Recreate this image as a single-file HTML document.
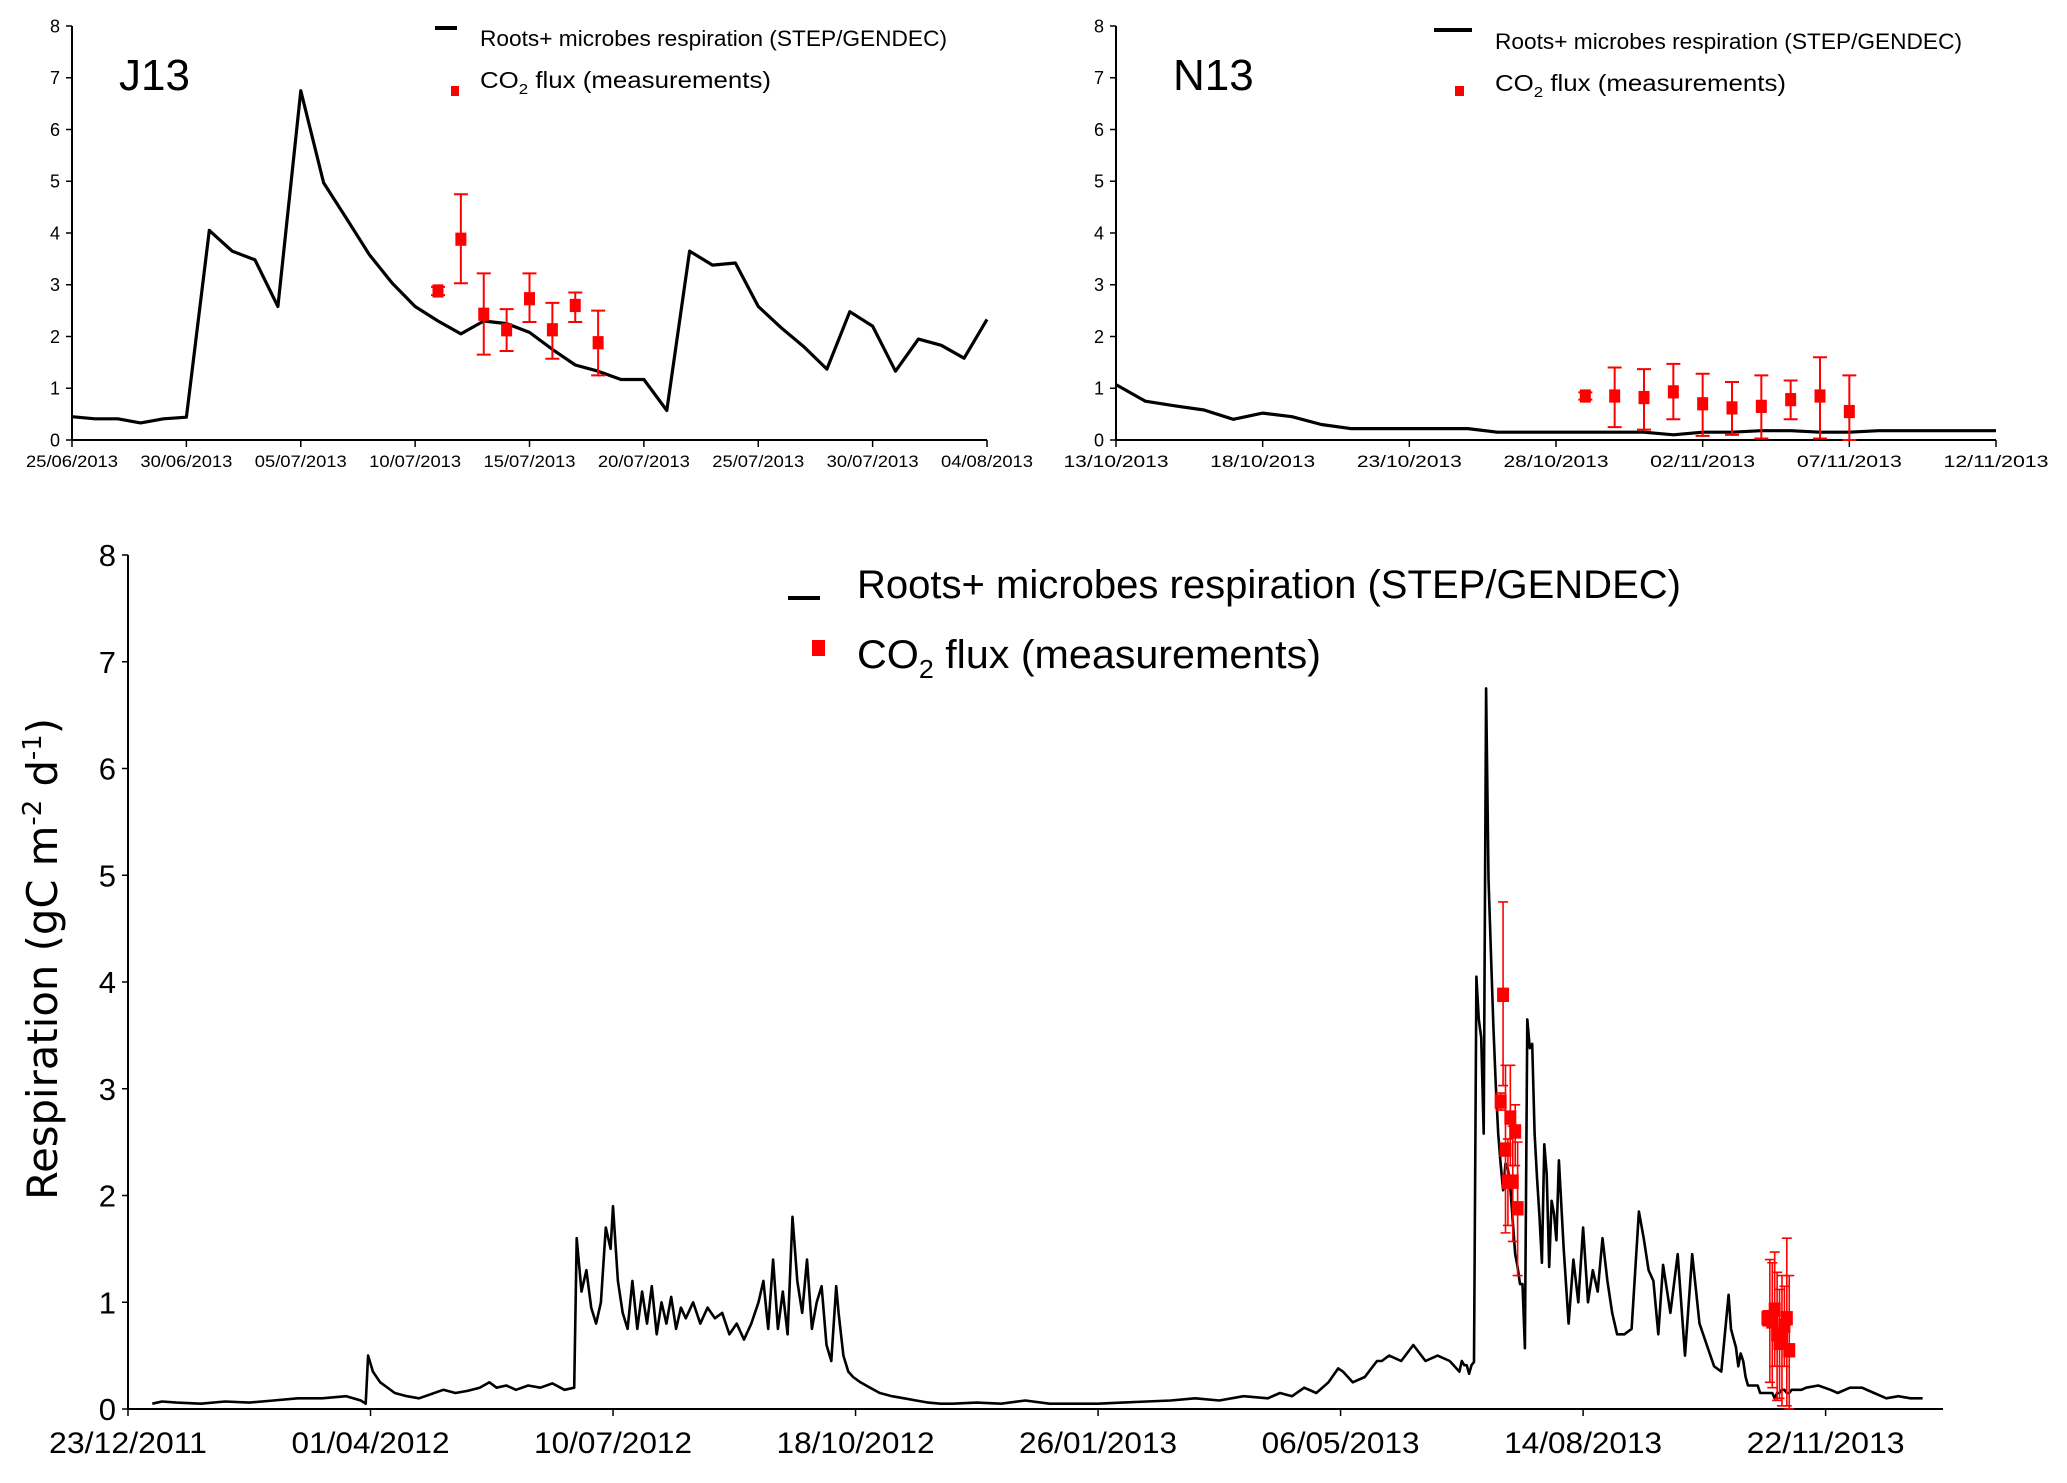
<!DOCTYPE html>
<html><head><meta charset="utf-8"><style>
html,body{margin:0;padding:0;background:#fff}
svg{display:block}
text{font-family:"Liberation Sans Narrow","Liberation Sans",sans-serif;fill:#000}
</style></head><body>
<svg id="fig" width="2067" height="1483" viewBox="0 0 2067 1483" xmlns="http://www.w3.org/2000/svg"></svg>
<script>
// ---- J13 data (days since 25/06/2013) ----
const j13Ticks = ["25/06/2013","30/06/2013","05/07/2013","10/07/2013","15/07/2013","20/07/2013","25/07/2013","30/07/2013","04/08/2013"];
const j13Model = [0.45,0.41,0.41,0.33,0.41,0.44,4.05,3.65,3.48,2.58,6.75,4.97,4.28,3.58,3.03,2.58,2.3,2.05,2.3,2.25,2.08,1.75,1.45,1.33,1.17,1.17,0.57,3.65,3.38,3.42,2.58,2.17,1.8,1.37,2.48,2.2,1.33,1.95,1.83,1.58,2.33];
const j13MeasDays = [16,17,18,19,20,21,22,23];
const j13Meas = [2.88,3.88,2.43,2.13,2.73,2.13,2.6,1.88];
const j13Lo = [2.8,3.03,1.65,1.72,2.28,1.57,2.28,1.25];
const j13Hi = [2.96,4.75,3.22,2.53,3.22,2.65,2.85,2.5];
// ---- N13 data (days since 13/10/2013) ----
const n13Ticks = ["13/10/2013","18/10/2013","23/10/2013","28/10/2013","02/11/2013","07/11/2013","12/11/2013"];
const n13Model = [1.07,0.75,0.66,0.58,0.4,0.52,0.45,0.3,0.22,0.22,0.22,0.22,0.22,0.15,0.15,0.15,0.15,0.15,0.15,0.1,0.15,0.15,0.18,0.18,0.15,0.15,0.18,0.18,0.18,0.18,0.18];
const n13MeasDays = [16,17,18,19,20,21,22,23,24,25];
const n13Meas = [0.85,0.85,0.82,0.93,0.7,0.62,0.65,0.78,0.85,0.55];
const n13Lo = [0.78,0.25,0.2,0.4,0.08,0.1,0.03,0.4,0.03,0.0];
const n13Hi = [0.92,1.4,1.37,1.47,1.28,1.12,1.25,1.15,1.6,1.25];
// ---- Full period (days since 23/12/2011) ----
const fullTicks = ["23/12/2011","01/04/2012","10/07/2012","18/10/2012","26/01/2013","06/05/2013","14/08/2013","22/11/2013"];
const j13Offset = 550;
const n13Offset = 660;
const fullDaysA = [10,14,20,30,40,50,60,70,80,90,96,98,99,101,104,110,115,120,125,130,135,140,145,149,152,156,160,165,170,175,180,184];
const fullValsA = [0.05,0.07,0.06,0.05,0.07,0.06,0.08,0.1,0.1,0.12,0.08,0.05,0.5,0.35,0.25,0.15,0.12,0.1,0.14,0.18,0.15,0.17,0.2,0.25,0.2,0.22,0.18,0.22,0.2,0.24,0.18,0.2];
const fullDaysB = [185,187,189,191,193,195,197,199,200,202,204,206,208,210,212,214,216,218,220,222,224,226,228,230,233,236,239,242,245,248,251,254,257,260,262,264,266,268,270,272,274,276,278,280,282,284,286,288,290,292,293,295,297,299,302,306,310,315,320,325,330,335,340];
const fullValsB = [1.6,1.1,1.3,0.95,0.8,1.0,1.7,1.5,1.9,1.2,0.9,0.75,1.2,0.75,1.1,0.8,1.15,0.7,1.0,0.8,1.05,0.75,0.95,0.85,1.0,0.8,0.95,0.85,0.9,0.7,0.8,0.65,0.8,1.0,1.2,0.75,1.4,0.75,1.1,0.7,1.8,1.2,0.9,1.4,0.75,1.0,1.15,0.6,0.45,1.15,0.9,0.5,0.35,0.3,0.25,0.2,0.15,0.12,0.1,0.08,0.06,0.05,0.05];
const fullDaysC = [350,360,370,380,390,400,410,420,430,440,450,460,470,475,480,485,490,495,499,501,505,510,515,517,520,525,530,535,540,545,549];
const fullValsC = [0.06,0.05,0.08,0.05,0.05,0.05,0.06,0.07,0.08,0.1,0.08,0.12,0.1,0.15,0.12,0.2,0.15,0.25,0.38,0.35,0.25,0.3,0.45,0.45,0.5,0.45,0.6,0.45,0.5,0.45,0.35];
const fullDaysD = [592,594,596,598,600,602,604,606,608,610,612,614,617,620,623,625,627,629,631,633,636,639,642,645,648,651,654,657];
const fullValsD = [1.5,0.8,1.4,1.0,1.7,1.0,1.3,1.1,1.6,1.2,0.9,0.7,0.7,0.75,1.85,1.6,1.3,1.2,0.7,1.35,0.9,1.45,0.5,1.45,0.8,0.6,0.4,0.35];
const fullDaysE = [692,697,702,705,710,715,720,725,730,735,740];
const fullValsE = [0.2,0.22,0.18,0.15,0.2,0.2,0.15,0.1,0.12,0.1,0.1];

const svg = document.getElementById('fig');
const NS = "http://www.w3.org/2000/svg";
function mk(tag, attrs, parent){
  const e = document.createElementNS(NS, tag);
  for (const k in attrs) e.setAttribute(k, attrs[k]);
  (parent||svg).appendChild(e);
  return e;
}

function panel(opt){
  const g = mk('g', {});
  
  
  const xs = d => opt.x0 + (d - opt.d0) / (opt.d1 - opt.d0) * (opt.x1 - opt.x0);
  const ys = v => opt.y0 - v / 8 * (opt.y0 - opt.y8);
  const ya = mk('line', {x1:opt.x0, y1:opt.y8, x2:opt.x0, y2:opt.y0, stroke:'#000', 'stroke-width':opt.axw}, g);
  
  
  const xa = mk('line', {x1:opt.x0, y1:opt.y0, x2:opt.x1, y2:opt.y0, stroke:'#000', 'stroke-width':opt.axw}, g);
  
  
  for (let v=0; v<=8; v++){
    mk('line', {x1:opt.x0-6, y1:ys(v), x2:opt.x0, y2:ys(v), stroke:'#000', 'stroke-width':1.5}, g);
    const t = mk('text', {x:opt.x0-12, y:ys(v)+opt.yfs*0.36, 'text-anchor':'end', 'font-size':opt.yfs}, g);
    t.textContent = v;
    
    
  }
  opt.ticks.forEach((lab,i)=>{
    const x = xs(opt.d0 + i*opt.tstep);
    mk('line', {x1:x, y1:opt.y0, x2:x, y2:opt.y0+7, stroke:'#000', 'stroke-width':1.5}, g);
    const t = mk('text', {x:x, y:opt.y0+opt.xoff, 'text-anchor':'middle', 'font-size':opt.xfs, textLength:opt.xtl, lengthAdjust:'spacingAndGlyphs'}, g);
    t.textContent = lab;
    
    
  });
  const pts = opt.lineDays.map((d,i)=> xs(d).toFixed(1)+','+ys(opt.lineVals[i]).toFixed(1)).join(' ');
  const pl = mk('polyline', {points:pts, fill:'none', stroke:'#000', 'stroke-width':opt.lw, 'stroke-linejoin':'round'}, g);
  
  
  opt.meas.forEach(m=>{
    m.days.forEach((d,i)=>{
      const x = xs(d + m.off);
      const eb = mk('path', {d:`M${x},${ys(m.lo[i])}V${ys(m.hi[i])}M${x-opt.cap},${ys(m.lo[i])}H${x+opt.cap}M${x-opt.cap},${ys(m.hi[i])}H${x+opt.cap}`, stroke:'#f00', 'stroke-width':opt.ebw, fill:'none'}, g);
      
      
      const s = opt.sq;
      const r = mk('rect', {x:x-s/2, y:ys(m.vals[i])-s*0.6, width:s, height:s*1.2, fill:'#f00'}, g);
      
      
    });
  });
  return g;
}

const jDays = j13Model.map((v,i)=>i);
panel({name:'j13-chart', x0:72, x1:987, d0:0, d1:40, y0:440, y8:26, axw:2, yfs:18, xfs:17, xtl:92, xoff:27, tstep:5,
  ticks:j13Ticks, lineDays:jDays, lineVals:j13Model, lw:3.2, sq:11, cap:7, ebw:2,
  meas:[{days:j13MeasDays, vals:j13Meas, lo:j13Lo, hi:j13Hi, off:0}]});
const nDays = n13Model.map((v,i)=>i);
panel({name:'n13-chart', x0:1116, x1:1996, d0:0, d1:30, y0:440, y8:26, axw:2, yfs:18, xfs:17, xtl:105, xoff:27, tstep:5,
  ticks:n13Ticks, lineDays:nDays, lineVals:n13Model, lw:3.2, sq:11, cap:7, ebw:2,
  meas:[{days:n13MeasDays, vals:n13Meas, lo:n13Lo, hi:n13Hi, off:0}]});
const fDays = [].concat(fullDaysA, fullDaysB, fullDaysC, jDays.map(d=>d+j13Offset), fullDaysD, nDays.map(d=>d+n13Offset), fullDaysE);
const fVals = [].concat(fullValsA, fullValsB, fullValsC, j13Model, fullValsD, n13Model, fullValsE);
panel({name:'full-period-chart', x0:128, x1:1943, d0:0, d1:748.4, y0:1409, y8:555, axw:2, yfs:31, xfs:30, xtl:158, xoff:44, tstep:100,
  ticks:fullTicks, lineDays:fDays, lineVals:fVals, lw:2.6, sq:12, cap:5, ebw:1.6,
  meas:[{days:j13MeasDays, vals:j13Meas, lo:j13Lo, hi:j13Hi, off:j13Offset},{days:n13MeasDays, vals:n13Meas, lo:n13Lo, hi:n13Hi, off:n13Offset}]});
</script>
<svg style="position:absolute;left:0;top:0" width="2067" height="1483" xmlns="http://www.w3.org/2000/svg">
  <text x="119" y="90" font-size="44">J13</text>
  <text x="1173" y="90" font-size="44">N13</text>
  <g>
    <line x1="435" y1="28" x2="457" y2="28" stroke="#000" stroke-width="4"/>
    <text x="480" y="46" font-size="22" textLength="467" lengthAdjust="spacingAndGlyphs">Roots+ microbes respiration (STEP/GENDEC)</text>
    <rect x="451" y="86" width="8" height="10" fill="#f00"/>
    <text x="480" y="88" font-size="23" textLength="291" lengthAdjust="spacingAndGlyphs">CO<tspan font-size="15" dy="6">2</tspan><tspan dy="-6"> flux (measurements)</tspan></text>
  </g>
  <g>
    <line x1="1434" y1="30" x2="1472" y2="30" stroke="#000" stroke-width="4"/>
    <text x="1495" y="49" font-size="22" textLength="467" lengthAdjust="spacingAndGlyphs">Roots+ microbes respiration (STEP/GENDEC)</text>
    <rect x="1455" y="86" width="9" height="10" fill="#f00"/>
    <text x="1495" y="91" font-size="23" textLength="291" lengthAdjust="spacingAndGlyphs">CO<tspan font-size="15" dy="6">2</tspan><tspan dy="-6"> flux (measurements)</tspan></text>
  </g>
  <g>
    <line x1="788" y1="598" x2="820" y2="598" stroke="#000" stroke-width="4"/>
    <text x="857" y="598" font-size="40" textLength="824" lengthAdjust="spacingAndGlyphs">Roots+ microbes respiration (STEP/GENDEC)</text>
    <rect x="812" y="640" width="13" height="16" fill="#f00"/>
    <text x="857" y="668" font-size="40" textLength="464" lengthAdjust="spacingAndGlyphs">CO<tspan font-size="26" dy="10">2</tspan><tspan dy="-10"> flux (measurements)</tspan></text>
  </g>
  <text transform="translate(57,959) rotate(-90)" text-anchor="middle" font-size="42" style="font-family:'DejaVu Sans','Liberation Sans',sans-serif" textLength="482" lengthAdjust="spacingAndGlyphs">Respiration (gC m<tspan font-size="26" dy="-16">-2</tspan><tspan dy="16"> d</tspan><tspan font-size="26" dy="-16">-1</tspan><tspan dy="16">)</tspan></text>
</svg>
</body></html>
